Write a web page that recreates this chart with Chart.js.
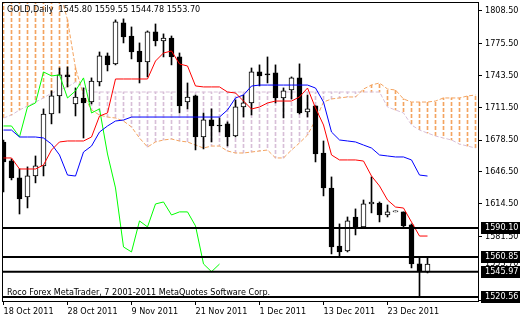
<!DOCTYPE html>
<html>
<head>
<meta charset="utf-8">
<script src="https://cdn.jsdelivr.net/npm/chart.js@4.4.1/dist/chart.umd.min.js"></script>
<style>
  html, body { margin: 0; padding: 0; background: #fff; }
  #chart { display: block; }
</style>
</head>
<body>
<canvas id="chart" width="520" height="320"></canvas>
<script>
// Axis labels
const tickIdx = [0, 8, 16, 24, 32, 40, 48];
const tickLabels = ['18 Oct 2011', '28 Oct 2011', '9 Nov 2011', '21 Nov 2011', '1 Dec 2011', '13 Dec 2011', '23 Dec 2011'];
const priceTicks = [1517.5, 1581.5, 1614.5, 1646.5, 1678.5, 1711.5, 1743.5, 1775.5, 1808.5];

// Horizontal levels drawn on the chart
const levels = [1590.10, 1560.85, 1545.97, 1520.56];
const lastPrice = 1553.70;

// Daily candles, 18 Oct 2011 .. 30 Dec 2011
const open = [1676.6, 1657.5, 1640.4, 1621.3, 1642.4, 1652.5, 1704.8, 1723.0, 1744.1, 1714.9,
  1720.9, 1716.9, 1737.0, 1763.2, 1755.2, 1796.5, 1783.3, 1768.2, 1757.2, 1787.4,
  1778.3, 1781.3, 1762.2, 1716.9, 1723.0, 1681.7, 1698.8, 1693.7, 1694.8, 1682.7,
  1711.9, 1715.9, 1747.1, 1745.1, 1746.1, 1720.9, 1729.0, 1741.1, 1706.8, 1712.9,
  1665.5, 1630.3, 1571.9, 1566.9, 1601.1, 1591.1, 1614.2, 1615.2, 1603.1, 1606.2,
  1606.2, 1593.1, 1553.8, 1545.80];
const high = [1678.6, 1659.5, 1649.5, 1651.5, 1662.5, 1709.9, 1728.0, 1751.1, 1752.1, 1731.0,
  1731.0, 1741.1, 1767.2, 1766.2, 1799.5, 1800.5, 1792.4, 1776.3, 1788.4, 1795.4,
  1785.4, 1783.3, 1766.2, 1736.0, 1723.9, 1705.8, 1709.9, 1700.8, 1696.8, 1718.9,
  1723.9, 1751.1, 1754.2, 1762.2, 1754.2, 1731.0, 1742.1, 1755.2, 1723.9, 1712.9,
  1677.6, 1641.4, 1594.1, 1601.1, 1609.2, 1618.2, 1641.4, 1616.2, 1613.2, 1606.2,
  1606.2, 1594.1, 1560.85, 1559.55];
const low = [1626.3, 1638.4, 1604.1, 1610.2, 1635.4, 1642.4, 1694.8, 1705.8, 1732.0, 1702.8,
  1680.6, 1714.9, 1733.0, 1748.1, 1754.2, 1776.3, 1760.2, 1736.0, 1742.1, 1773.3,
  1762.2, 1754.2, 1705.8, 1709.9, 1668.6, 1669.6, 1676.6, 1686.7, 1672.6, 1681.7,
  1701.8, 1703.8, 1733.0, 1736.0, 1715.9, 1700.8, 1719.9, 1704.8, 1701.8, 1656.5,
  1622.3, 1563.9, 1560.9, 1565.9, 1583.0, 1590.1, 1605.2, 1596.1, 1601.1, 1606.2,
  1591.1, 1549.8, 1520.56, 1544.78];
const close = [1656.5, 1640.4, 1619.2, 1642.4, 1652.5, 1704.8, 1723.0, 1744.1, 1742.1, 1721.9,
  1715.9, 1738.0, 1763.2, 1754.2, 1797.5, 1782.3, 1767.2, 1757.2, 1787.4, 1778.3,
  1781.3, 1762.2, 1712.9, 1721.9, 1681.7, 1698.8, 1692.7, 1692.7, 1681.7, 1711.9,
  1715.9, 1747.1, 1743.1, 1744.1, 1720.9, 1728.0, 1741.1, 1705.8, 1709.9, 1664.5,
  1630.3, 1570.9, 1565.9, 1597.1, 1591.1, 1614.2, 1616.2, 1603.1, 1606.2, 1606.2,
  1592.1, 1553.8, 1546.0, 1553.70];

// Ichimoku lines
const tenkan = [1660.5, 1660.5, 1649.4, 1649.4, 1649.4, 1653.4, 1668.5, 1676.6, 1677.6, 1677.6,
  1677.6, 1681.6, 1702.7, 1705.8, 1740.0, 1740.0, 1740.0, 1740.0, 1740.0, 1758.1,
  1766.2, 1768.2, 1755.1, 1753.1, 1733.0, 1732.0, 1732.0, 1732.0, 1726.9, 1725.9,
  1717.8, 1709.8, 1711.8, 1715.8, 1717.8, 1717.8, 1717.8, 1721.9, 1730.9, 1710.8,
  1693.7, 1663.5, 1658.5, 1658.5, 1658.5, 1657.4, 1642.3, 1632.3, 1618.2, 1611.1,
  1610.1, 1596.0, 1581.9, 1581.9];
const kijun = [1688.6, 1688.6, 1681.6, 1681.6, 1681.6, 1680.6, 1674.5, 1663.5, 1643.3, 1642.3,
  1666.5, 1672.5, 1686.6, 1692.7, 1697.7, 1698.7, 1701.7, 1701.7, 1701.7, 1701.7,
  1701.7, 1701.7, 1701.7, 1701.7, 1701.7, 1701.7, 1701.7, 1701.7, 1708.8, 1720.9,
  1723.9, 1732.9, 1733.9, 1733.9, 1733.9, 1733.9, 1733.9, 1733.9, 1733.9, 1730.9,
  1716.8, 1686.6, 1678.6, 1677.6, 1676.6, 1673.5, 1670.5, 1663.5, 1662.5, 1661.5,
  1661.5, 1658.5, 1643.3, 1642.3];
const spanA = [1830, 1830, 1830, 1830, 1830, 1830, 1830, 1830, 1799.4, 1751.1,
  1723.9, 1708.8, 1703.7, 1701.7, 1700.7, 1697.7, 1691.7, 1680.6, 1671.5, 1676.6,
  1678.6, 1679.6, 1677.6, 1676.6, 1673.5, 1670.5, 1672.5, 1672.5, 1667.5, 1665.5,
  1665.5, 1666.5, 1667.5, 1668.5, 1660.5, 1660.5, 1668.5, 1675.6, 1683.6, 1698.7,
  1716.8, 1719.9, 1720.9, 1721.9, 1721.9, 1729.9, 1733.9, 1736.0, 1729.9, 1728.9,
  1719.9, 1716.8, 1716.8, 1716.8, 1717.8, 1720.9, 1720.9, 1720.9, 1722.9, 1723.9];
const spanB = [1700.7, 1703.7, 1708.8, 1712.8, 1716.8, 1720.9, 1725.9, 1728.9, 1731.9, 1737.0,
  1730.9, 1726.9, 1726.9, 1726.9, 1726.9, 1726.9, 1726.9, 1726.9, 1726.9, 1726.9,
  1726.9, 1726.9, 1726.9, 1726.9, 1726.9, 1726.9, 1726.9, 1726.9, 1726.9, 1726.9,
  1726.9, 1726.9, 1726.9, 1726.9, 1726.9, 1726.9, 1726.9, 1726.9, 1726.9, 1726.9,
  1726.9, 1726.9, 1726.9, 1726.9, 1726.9, 1726.9, 1726.9, 1726.9, 1711.8, 1708.8,
  1705.8, 1693.7, 1688.6, 1685.6, 1682.6, 1680.6, 1678.6, 1674.5, 1672.5, 1670.5];
// Chikou span is the close plotted 26 bars back
const chikou = close.slice(26);

const FAMILY = '"DejaVu Sans Condensed", "DejaVu Sans", sans-serif';
const FONT = '9px ' + FAMILY;
const X_MIN = -0.0625, X_MAX = 59.3125;

const canvas = document.getElementById('chart');
const ctx = canvas.getContext('2d');

// vertical dashed fill for the cloud histogram
function dashed(color) {
  const tile = document.createElement('canvas');
  tile.width = 1;
  tile.height = 6;
  const t = tile.getContext('2d');
  t.fillStyle = color;
  t.fillRect(0, 0, 1, 4);
  return ctx.createPattern(tile, 'repeat');
}

const pts = arr => arr.map((v, i) => ({ x: i, y: v }));

const cloudSandy = [];
const cloudThistle = [];
spanA.forEach((a, i) => {
  const b = spanB[i];
  if (a > b) cloudSandy.push({ x: i, y: [b, a] });
  else cloudThistle.push({ x: i, y: [a, b] });
});

const bodies = open.map((o, i) => ({ x: i, y: [o, close[i]] }));
const wicks = low.map((l, i) => ({ x: i, y: [l, high[i]] }));
const bodyColors = open.map((o, i) => (close[i] >= o ? '#ffffff' : '#000000'));

const lineDs = (data, color, order, dash) => ({
  type: 'line', data, borderColor: color, borderWidth: 1, borderDash: dash || [],
  pointRadius: 0, tension: 0, fill: false, order
});

const levelSets = levels.map(l => ({
  type: 'line', data: [{ x: X_MIN, y: l }, { x: X_MAX, y: l }],
  borderColor: '#000', borderWidth: 2, pointRadius: 0, fill: false, order: 0
}));

const overlay = {
  id: 'overlay',
  beforeDatasetsDraw(chart) {
    const a = chart.chartArea;
    const c = chart.ctx;
    c.save();
    c.font = FONT;
    c.fillStyle = '#000';
    c.textBaseline = 'middle';
    c.fillText('Roco Forex MetaTrader, 7 2001-2011 MetaQuotes Software Corp.', a.left + 4, a.bottom - 8);
    c.restore();
  },
  afterDatasetsDraw(chart) {
    const a = chart.chartArea;
    const c = chart.ctx;
    c.save();
    c.font = FONT;
    c.fillStyle = '#000';
    c.textBaseline = 'middle';
    c.fillText('GOLD,Daily  1545.80 1559.55 1544.78 1553.70', a.left + 4, a.top + 7);
    c.restore();
  },
  afterDraw(chart) {
    const a = chart.chartArea;
    const c = chart.ctx;
    const y = chart.scales.y;
    c.save();
    c.strokeStyle = '#000';
    c.lineWidth = 1;
    c.strokeRect(a.left - 0.5, a.top - 0.5, a.right - a.left + 1, a.bottom - a.top + 1);
    c.font = FONT;
    c.textBaseline = 'middle';
    c.fillStyle = '#000';
    c.fillText(lastPrice.toFixed(2), a.right + 7, y.getPixelForValue(lastPrice));
    levels.forEach(l => {
      const py = Math.round(y.getPixelForValue(l));
      c.fillStyle = '#000';
      c.fillRect(a.right + 3, py - 6, 40, 12);
      c.fillStyle = '#fff';
      c.fillText(l.toFixed(2), a.right + 7, py);
    });
    c.restore();
  }
};

new Chart(ctx, {
  type: 'line',
  data: {
    datasets: [
      ...levelSets,
      lineDs(pts(tenkan), '#ff0000', 1),
      lineDs(pts(kijun), '#0000ff', 1),
      lineDs(pts(chikou), '#00ff00', 1),
      {
        type: 'bar', data: bodies, backgroundColor: bodyColors, borderColor: '#000',
        borderWidth: 1, borderSkipped: false, barThickness: 5, minBarLength: 1,
        grouped: false, order: 2
      },
      {
        type: 'bar', data: wicks, backgroundColor: '#000', borderWidth: 0,
        barThickness: 1, minBarLength: 1, grouped: false, order: 3
      },
      lineDs(pts(spanA), '#f4a460', 4, [4, 2]),
      lineDs(pts(spanB), '#d8bfd8', 4, [4, 2]),
      {
        type: 'bar', data: cloudSandy, backgroundColor: dashed('#f4a460'), borderWidth: 0,
        barThickness: 1, grouped: false, order: 5
      },
      {
        type: 'bar', data: cloudThistle, backgroundColor: dashed('#d8bfd8'), borderWidth: 0,
        barThickness: 1, grouped: false, order: 5
      }
    ]
  },
  options: {
    responsive: false,
    animation: false,
    devicePixelRatio: 1,
    events: [],
    layout: { padding: { left: 3, top: 3, right: 0, bottom: 0 } },
    plugins: { legend: { display: false }, tooltip: { enabled: false } },
    scales: {
      x: {
        type: 'linear', min: X_MIN, max: X_MAX, offset: false,
        afterBuildTicks: s => { s.ticks = tickIdx.map(v => ({ value: v })); },
        afterFit: s => { s.height = 19; s.paddingLeft = 0; s.paddingRight = 0; },
        ticks: {
          autoSkip: false, maxRotation: 0, align: 'start', padding: 1, color: '#000',
          font: { family: FAMILY, size: 9 },
          callback: (v, i) => tickLabels[i]
        },
        grid: { drawOnChartArea: false, tickLength: 4, color: '#000', offset: false },
        border: { display: false }
      },
      y: {
        position: 'right', min: 1516.5, max: 1816.5,
        afterBuildTicks: s => { s.ticks = priceTicks.map(v => ({ value: v })); },
        afterFit: s => { s.width = 42; s.paddingTop = 0; s.paddingBottom = 0; },
        ticks: {
          padding: 3, color: '#000', font: { family: FAMILY, size: 9 },
          callback: v => v.toFixed(2)
        },
        grid: { drawOnChartArea: false, tickLength: 4, color: '#000' },
        border: { display: false }
      }
    }
  },
  plugins: [overlay]
});
</script>
</body>
</html>
